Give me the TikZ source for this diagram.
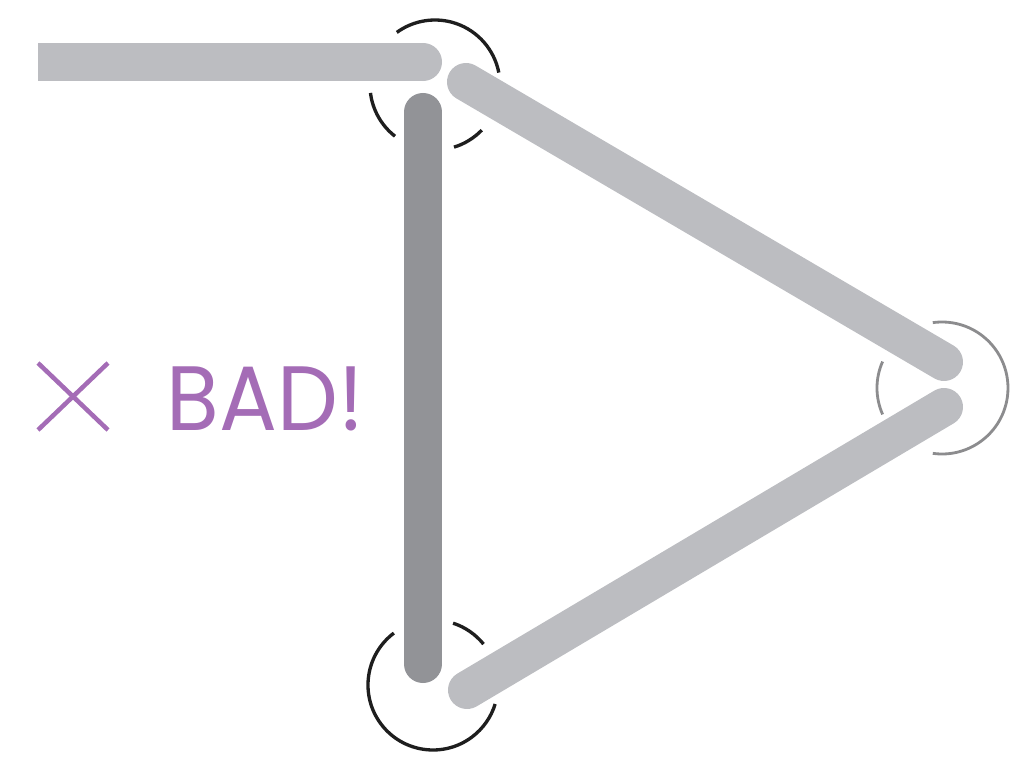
\documentclass[tikz,border=0pt]{standalone}
\usepackage{xcolor}
\usepackage{fontspec}
\newfontfamily\labelfont{Poppins}
\usepackage{tikz}
\usetikzlibrary{positioning,calc}
\definecolor{barLight}{HTML}{BCBDC1}
\definecolor{barDark}{HTML}{929397}
\definecolor{jointInk}{HTML}{1E1E1E}
\definecolor{jointGrey}{HTML}{8C8C8E}
\definecolor{badPurple}{HTML}{A46CB6}

\begin{document}
\begin{tikzpicture}[x=0.01cm, y=0.01cm,
  bar/.style={line width=0.38cm, line cap=round},
  joint/.style={line width=0.95pt, draw=jointInk},
  softjoint/.style={line width=0.8pt, draw=jointGrey},
]
  \useasboundingbox (0,0) rectangle (1020,769);

  % joints
  \coordinate (jTop) at (435,684);
  \coordinate (jRight) at (942,381);
  \coordinate (jBot) at (433,84);

  % bar ends
  \coordinate (hStart) at (38,707);
  \coordinate (hEnd) at (423,707);
  \coordinate (vTop) at (423,657);
  \coordinate (vBot) at (423,105);
  \coordinate (uStart) at (466,687);
  \coordinate (uEnd) at (944,407);
  \coordinate (lStart) at (467,79);
  \coordinate (lEnd) at (944,362);

  % bars
  \draw[bar, barLight, line cap=butt] (hStart) -- (hEnd);
  \fill[barLight] (hEnd) circle (0.19cm);
  \draw[bar, barDark] (vTop) -- (vBot);
  \draw[bar, barLight] (uStart) -- (uEnd);
  \draw[bar, barLight] (lStart) -- (lEnd);

  % broken rings round the joints
  \draw[joint] ($(jTop)+(11:65)$) arc[start angle=11, end angle=126, radius=65];
  \draw[joint] ($(jTop)+(187:65)$) arc[start angle=187, end angle=232, radius=65];
  \draw[joint] ($(jTop)+(287:65)$) arc[start angle=287, end angle=316, radius=65];

  \draw[softjoint] ($(jRight)+(-98:66)$) arc[start angle=-98, end angle=98, radius=66];
  \draw[softjoint] ($(jRight)+(156:65)$) arc[start angle=156, end angle=204, radius=65];

  \draw[joint] ($(jBot)+(127:65)$) arc[start angle=127, end angle=343, radius=65];
  \draw[joint] ($(jBot)+(39:65)$) arc[start angle=39, end angle=72, radius=65];

  % verdict
  \coordinate (xA) at (38,406);
  \coordinate (xB) at (108,339);
  \coordinate (xC) at (38,339);
  \coordinate (xD) at (108,406);
  \draw[badPurple, line width=0.045cm] (xA) -- (xB);
  \draw[badPurple, line width=0.045cm] (xC) -- (xD);
  \node[anchor=base west, inner sep=0pt, xscale=0.94, transform shape, text=badPurple, font=\labelfont\fontsize{26}{30}\selectfont] (verdict) at (166,338) {BAD!};
\end{tikzpicture}
\end{document}
